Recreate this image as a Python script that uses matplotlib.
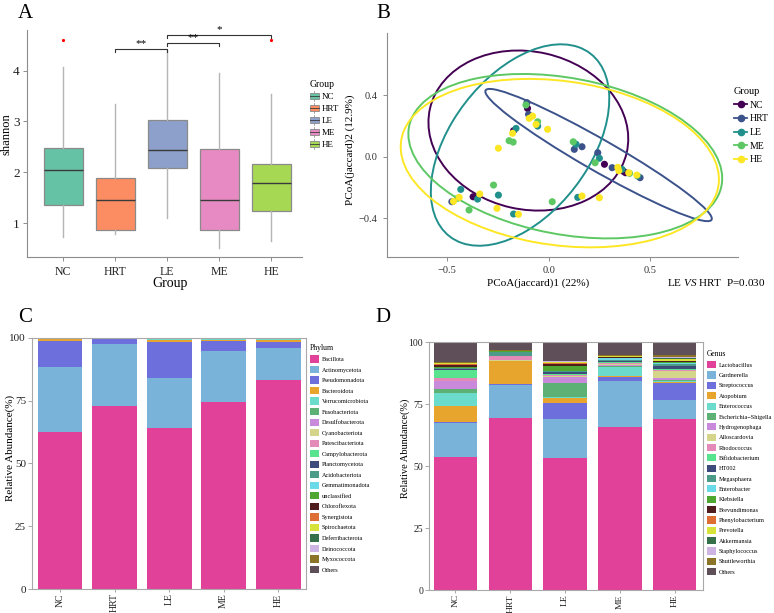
import matplotlib
matplotlib.use('Agg')
import matplotlib.pyplot as plt
from matplotlib.patches import Ellipse, Rectangle, Patch
from matplotlib.lines import Line2D
from matplotlib.legend_handler import HandlerBase
import numpy as np

plt.rcParams['font.family'] = ['Liberation Serif', 'DejaVu Serif']
plt.rcParams['mathtext.fontset'] = 'custom'
plt.rcParams['mathtext.rm'] = 'Liberation Serif'
plt.rcParams['mathtext.it'] = 'Liberation Serif:italic'

# ---------------- data ----------------
groups = ['NC', 'HRT', 'LE', 'ME', 'HE']

# Panel A: shannon boxplot summaries
shannon_whislo = [0.72, 0.78, 1.10, 0.51, 0.65]
shannon_q1 = [1.35, 0.86, 2.09, 0.87, 1.24]
shannon_med = [2.05, 1.45, 2.43, 1.46, 1.79]
shannon_q3 = [2.47, 1.88, 3.02, 2.45, 2.17]
shannon_whishi = [4.07, 3.35, 4.40, 3.96, 3.55]
shannon_outliers = [[4.61], [], [], [], [4.60]]
box_colors = ['#66C2A5', '#FC8D62', '#8DA0CB', '#E78AC3', '#A6D854']
sig_left = [2, 3, 3]
sig_right = [3, 4, 5]
sig_labels = ['**', '**', '*']
sig_heights = [4.43, 4.55, 4.71]

# Panel B: PCoA points and ellipses
pcoa_colors = ['#440154', '#3B528B', '#21908C', '#5DC863', '#FDE725']
nc_pc1 = [-0.104, -0.173, 0.276, 0.380, -0.373, 0.37]
nc_pc2 = [0.314, 0.169, -0.049, -0.104, -0.260, -0.095]
hrt_pc1 = [-0.107, -0.099, 0.127, 0.165, 0.243, 0.314, 0.452, -0.478]
hrt_pc2 = [0.351, 0.275, 0.048, 0.065, 0.026, -0.071, -0.136, -0.292]
le_pc1 = [-0.161, -0.054, 0.136, 0.251, 0.363, 0.44, -0.434, -0.351, -0.248, -0.173, 0.144]
le_pc2 = [0.184, 0.199, 0.081, -0.010, -0.082, -0.125, -0.212, -0.275, -0.249, -0.372, -0.264]
me_pc1 = [-0.112, -0.054, -0.195, -0.175, 0.122, 0.230, 0.40, -0.393, -0.272, 0.018, -0.45]
me_pc2 = [0.336, 0.227, 0.104, 0.095, 0.097, -0.039, -0.108, -0.346, -0.184, -0.292, -0.27]
he_pc1 = [-0.096, -0.079, -0.062, -0.005, -0.178, -0.248, 0.342, 0.347, 0.396, 0.436,
          -0.442, -0.340, -0.255, -0.149, 0.165, 0.251, -0.47]
he_pc2 = [0.249, 0.264, 0.210, 0.178, 0.152, 0.055, -0.069, -0.091, -0.104, -0.119,
          -0.264, -0.242, -0.335, -0.374, -0.255, -0.266, -0.29]
ell_cx = [-0.100, 0.247, -0.141, 0.0825, 0.0555]
ell_cy = [0.170, 0.011, 0.076, 0.0035, -0.0415]
ell_a = [0.535, 0.699, 0.698, 0.798, 0.799]
ell_b = [0.477, 0.095, 0.367, 0.4995, 0.528]
ell_angle = [-58.3, -37.2, 65.7, -17.6, -13.7]

# Panel C: phylum relative abundance (%)
taxa_colors = ['#E2419A', '#79B3D9', '#6C6FDC', '#E7A52E', '#6BDBCB', '#5DB174', '#C98ADB',
               '#D4D48B', '#E38AB9', '#58E38E', '#3D4C7B', '#4C9A88', '#6BDAE8', '#4FA732',
               '#4F1D1D', '#DD6E34', '#D7E33B', '#36704B', '#CDB4E2', '#8B7428', '#5E4F58']
phylum_names = ['Bacillota', 'Actinomycetota', 'Pseudomonadota', 'Bacteroidota',
                'Verrucomicrobiota', 'Fusobacteriota', 'Desulfobacterota', 'Cyanobacteriota',
                'Patescibacteriota', 'Campylobacterota', 'Planctomycetota', 'Acidobacteriota',
                'Gemmatimonadota', 'unclassified', 'Chloroflexota', 'Synergistota',
                'Spirochaetota', 'Deferribacterota', 'Deinococcota', 'Myxococcota', 'Others']
bacillota = [62.6, 73.0, 64.2, 74.6, 83.1]
actinomycetota = [25.6, 24.5, 19.8, 20.1, 12.7]
pseudomonadota = [10.5, 2.0, 14.3, 4.0, 2.5]
bacteroidota = [0.7, 0.3, 0.8, 0.3, 0.8]
verrucomicrobiota = [0.2, 0.05, 0.3, 0.5, 0.4]
fusobacteriota = [0.1, 0.03, 0.1, 0.2, 0.1]
desulfobacterota = [0.05, 0.02, 0.08, 0.05, 0.05]
cyanobacteriota = [0.03, 0.01, 0.05, 0.03, 0.05]
patescibacteriota = [0.02, 0.01, 0.05, 0.03, 0.04]
campylobacterota = [0.03, 0.01, 0.04, 0.03, 0.04]
planctomycetota = [0.02, 0.01, 0.04, 0.02, 0.03]
acidobacteriota = [0.02, 0.01, 0.03, 0.02, 0.03]
gemmatimonadota = [0.01, 0.005, 0.03, 0.02, 0.02]
unclassified = [0.02, 0.01, 0.03, 0.02, 0.02]
chloroflexota = [0.01, 0.005, 0.02, 0.01, 0.02]
synergistota = [0.01, 0.005, 0.02, 0.01, 0.01]
spirochaetota = [0.01, 0.005, 0.02, 0.01, 0.01]
deferribacterota = [0.01, 0.005, 0.02, 0.01, 0.01]
deinococcota = [0.01, 0.005, 0.01, 0.01, 0.01]
myxococcota = [0.01, 0.005, 0.01, 0.01, 0.01]
phylum_others = [0.04, 0.02, 0.06, 0.04, 0.04]
phylum_values = [bacillota, actinomycetota, pseudomonadota, bacteroidota, verrucomicrobiota,
                 fusobacteriota, desulfobacterota, cyanobacteriota, patescibacteriota,
                 campylobacterota, planctomycetota, acidobacteriota, gemmatimonadota,
                 unclassified, chloroflexota, synergistota, spirochaetota, deferribacterota,
                 deinococcota, myxococcota, phylum_others]

# Panel D: genus relative abundance (%)
genus_names = ['Lactobacillus', 'Gardnerella', 'Streptococcus', 'Atopobium', 'Enterococcus',
               'Escherichia\u2212Shigella', 'Hydrogenophaga', 'Alloscardovia', 'Rhodococcus',
               'Bifidobacterium', 'HT002', 'Megasphaera', 'Enterobacter', 'Klebsiella',
               'Brevundimonas', 'Phenylobacterium', 'Prevotella', 'Akkermansia',
               'Staphylococcus', 'Shuttleworthia', 'Others']
lactobacillus = [53.5, 69.6, 53.1, 65.7, 69.0]
gardnerella = [14.0, 13.3, 15.9, 18.7, 7.6]
streptococcus = [0.5, 0.3, 6.4, 1.6, 7.0]
atopobium = [6.2, 9.3, 2.1, 0.5, 0.2]
enterococcus = [5.4, 0.05, 0.5, 3.6, 0.4]
escherichia = [1.4, 0.05, 5.5, 0.3, 0.6]
hydrogenophaga = [3.3, 0.05, 2.6, 0.6, 0.6]
alloscardovia = [0.1, 0.05, 0.2, 0.1, 2.9]
rhodococcus = [1.3, 1.6, 0.6, 0.6, 0.5]
bifidobacterium = [3.2, 0.05, 0.3, 0.2, 0.3]
ht002 = [0.3, 0.05, 0.8, 0.4, 1.3]
megasphaera = [0.3, 1.8, 0.3, 0.4, 0.8]
enterobacter = [0.2, 0.05, 0.2, 0.9, 0.5]
klebsiella = [0.2, 0.05, 1.8, 0.2, 0.4]
brevundimonas = [0.8, 0.05, 0.9, 0.3, 0.2]
phenylobacterium = [0.6, 0.05, 0.4, 0.1, 0.2]
prevotella = [0.2, 0.05, 0.4, 0.2, 0.7]
akkermansia = [0.1, 0.05, 0.2, 0.1, 0.4]
staphylococcus = [0.1, 0.05, 0.1, 0.1, 0.5]
shuttleworthia = [0.2, 0.2, 0.2, 0.3, 0.6]
genus_others = [8.1, 3.25, 7.5, 5.1, 5.3]
genus_values = [lactobacillus, gardnerella, streptococcus, atopobium, enterococcus, escherichia,
                hydrogenophaga, alloscardovia, rhodococcus, bifidobacterium, ht002, megasphaera,
                enterobacter, klebsiella, brevundimonas, phenylobacterium, prevotella,
                akkermansia, staphylococcus, shuttleworthia, genus_others]

# ---------------- figure ----------------
W, H = 774, 613
fig = plt.figure(figsize=(W / 100, H / 100), dpi=100)


def rect(l, t, r, b):
    return [l / W, 1 - b / H, (r - l) / W, (b - t) / H]


def ftext(x, y, s, **kw):
    fig.text(x / W, 1 - y / H, s, **kw)


AX_GRAY = '#8c8c8c'


def style_spines(ax, sides, color=AX_GRAY, lw=0.8):
    for s in ['top', 'right', 'bottom', 'left']:
        ax.spines[s].set_visible(s in sides)
        ax.spines[s].set_color(color)
        ax.spines[s].set_linewidth(lw)
    ax.tick_params(colors=color, length=3, width=0.7, direction='out')


class BoxKey(HandlerBase):
    def create_artists(self, legend, orig_handle, xdescent, ydescent, width, height,
                       fontsize, trans):
        x0, y0 = -xdescent, -ydescent
        wl = Line2D([x0 + width / 2] * 2, [y0 - 0.15 * height, y0 + 1.15 * height],
                    color='#9a9a9a', lw=0.6, transform=trans)
        r = Rectangle((x0, y0 + 0.15 * height), width, 0.7 * height,
                      facecolor=orig_handle.get_facecolor(), edgecolor='#8a8a8a',
                      lw=0.6, transform=trans)
        m = Line2D([x0, x0 + width], [y0 + height / 2] * 2, color='#3a3a3a', lw=0.6,
                   transform=trans)
        return [wl, r, m]


# ---- Panel A ----
axA = fig.add_axes(rect(26.7, 30, 301.7, 256.7))
stats = []
for i, g in enumerate(groups):
    stats.append(dict(label=g, whislo=shannon_whislo[i], q1=shannon_q1[i], med=shannon_med[i],
                      q3=shannon_q3[i], whishi=shannon_whishi[i], fliers=shannon_outliers[i]))
bp = axA.bxp(stats, positions=range(1, 6), widths=0.75, patch_artist=True, showcaps=False,
             boxprops=dict(edgecolor='#8a8a8a', linewidth=0.9),
             medianprops=dict(color='#3a3a3a', linewidth=1.0),
             whiskerprops=dict(color='#b5b5b5', linewidth=1.0),
             flierprops=dict(marker='o', markersize=1.3, markerfacecolor='red',
                             markeredgecolor='red'))
for patch, c in zip(bp['boxes'], box_colors):
    patch.set_facecolor(c)
for i, j, lab, h in zip(sig_left, sig_right, sig_labels, sig_heights):
    axA.plot([i, i, j, j], [h - 0.06, h, h, h - 0.06], color='#333333', lw=0.8)
    axA.text((i + j) / 2, h + 0.01, lab, ha='center', va='bottom', fontsize=8)
axA.set_xlim(0.3, 5.58)
axA.set_ylim(0.34, 4.80)
axA.set_yticks([1, 2, 3, 4])
axA.set_xticks(range(1, 6))
axA.set_xticklabels(groups)
style_spines(axA, ['left', 'bottom'])
axA.tick_params(axis='y', labelsize=9.5, labelcolor='#222222', pad=2)
axA.tick_params(axis='x', labelsize=8.5, labelcolor='#222222')
ftext(7, 134, 'shannon', rotation=90, ha='center', va='center', fontsize=9)
ftext(170, 283, 'Group', ha='center', va='center', fontsize=10)
box_handles = [Patch(facecolor=c) for c in box_colors]
fig.legend(box_handles, groups, loc='upper left', bbox_to_anchor=(309.5 / W, 1 - 80 / H),
           frameon=False, fontsize=6.5, title='Group', title_fontsize=7, alignment='left',
           handlelength=1.1, handleheight=1.0, labelspacing=0.32, handletextpad=0.3,
           borderpad=0, borderaxespad=0, handler_map={Patch: BoxKey()})

# ---- Panel B ----
axB = fig.add_axes(rect(386.7, 33.5, 738, 256.7))
pcs = [(nc_pc1, nc_pc2), (hrt_pc1, hrt_pc2), (le_pc1, le_pc2), (me_pc1, me_pc2), (he_pc1, he_pc2)]
for k in range(5):
    axB.add_patch(Ellipse((ell_cx[k], ell_cy[k]), 2 * ell_a[k], 2 * ell_b[k], angle=ell_angle[k],
                          fill=False, edgecolor=pcoa_colors[k], lw=1.4, zorder=2))
for k in range(5):
    axB.scatter(pcs[k][0], pcs[k][1], s=26, color=pcoa_colors[k], edgecolors='none', zorder=3)
axB.set_xlim(-0.80, 0.936)
axB.set_ylim(-0.649, 0.80)
axB.set_xticks([-0.5, 0.0, 0.5])
axB.set_xticklabels(['\u22120.5', '0.0', '0.5'])
axB.set_yticks([-0.4, 0.0, 0.4])
axB.set_yticklabels(['\u22120.4', '0.0', '0.4'])
style_spines(axB, ['left', 'bottom'])
axB.tick_params(labelsize=7.5, labelcolor='#333333')
ftext(350, 150, 'PCoA(jaccard)2 (12.9%)', rotation=90, ha='center', va='center', fontsize=8)
ftext(538, 283, 'PCoA(jaccard)1 (22%)', ha='center', va='center', fontsize=8)
ftext(716, 283, r'LE $\mathit{VS}$ HRT  P=0.030', ha='center', va='center', fontsize=8)
pt_handles = [Line2D([0], [0], color=c, lw=1.3, marker='o', markersize=4.5) for c in pcoa_colors]
fig.legend(pt_handles, groups, loc='upper left', bbox_to_anchor=(734 / W, 1 - 87 / H),
           frameon=False, fontsize=7, title='Group', title_fontsize=7.5, alignment='left',
           handlelength=1.35, labelspacing=0.48, handletextpad=0.3, borderpad=0,
           borderaxespad=0)

# ---- Panel C ----
xpos = np.arange(1, 6)
axC = fig.add_axes(rect(32.3, 337.7, 306, 589.3))
bottom = np.zeros(5)
for vals, col in zip(phylum_values, taxa_colors):
    axC.bar(xpos, vals, bottom=bottom, width=0.82, color=col, linewidth=0)
    bottom += np.array(vals)
axC.set_xlim(0.49, 5.51)
axC.set_ylim(0, 100)
axC.set_yticks([0, 25, 50, 75, 100])
axC.set_xticks(xpos)
axC.set_xticklabels(groups, rotation=90)
style_spines(axC, ['left', 'bottom', 'top', 'right'], color='#a8a8a8')
axC.tick_params(axis='y', labelsize=8, labelcolor='#222222', pad=1.5)
axC.tick_params(axis='x', labelsize=7, labelcolor='#222222', pad=1, length=2)
ftext(10, 448, 'Relative Abundance(%)', rotation=90, ha='center', va='center', fontsize=8)
c_handles = [Patch(facecolor=c, edgecolor='none') for c in taxa_colors]
fig.legend(c_handles, phylum_names, loc='upper left', bbox_to_anchor=(310 / W, 1 - 344 / H),
           frameon=False, fontsize=4.5, title='Phylum', title_fontsize=5.5, alignment='left',
           handlelength=1.4, handleheight=1.4, labelspacing=0.53, handletextpad=0.45,
           borderpad=0, borderaxespad=0)

# ---- Panel D ----
axD = fig.add_axes(rect(429.3, 342.3, 703.3, 590))
bottom = np.zeros(5)
for vals, col in zip(genus_values, taxa_colors):
    axD.bar(xpos, vals, bottom=bottom, width=0.79, color=col, linewidth=0)
    bottom += np.array(vals)
axD.set_xlim(0.525, 5.52)
axD.set_ylim(0, 100)
axD.set_yticks([0, 25, 50, 75, 100])
axD.set_xticks(xpos)
axD.set_xticklabels(groups, rotation=90)
style_spines(axD, ['left', 'bottom', 'top', 'right'], color='#a8a8a8')
axD.tick_params(axis='y', labelsize=7, labelcolor='#222222', pad=1.5)
axD.tick_params(axis='x', labelsize=6.8, labelcolor='#222222', pad=1, length=2)
ftext(405, 448, 'Relative Abundance(%)', rotation=90, ha='center', va='center', fontsize=7.5)
fig.legend(c_handles, genus_names, loc='upper left', bbox_to_anchor=(707 / W, 1 - 350 / H),
           frameon=False, fontsize=4.5, title='Genus', title_fontsize=5.5, alignment='left',
           handlelength=1.4, handleheight=1.4, labelspacing=0.5, handletextpad=0.45,
           borderpad=0, borderaxespad=0)

# panel letters
ftext(25, 14, 'A', ha='center', va='center', fontsize=15)
ftext(383, 14, 'B', ha='center', va='center', fontsize=15)
ftext(25, 318, 'C', ha='center', va='center', fontsize=15)
ftext(383, 318, 'D', ha='center', va='center', fontsize=15)

fig.savefig('out.png', dpi=100)
